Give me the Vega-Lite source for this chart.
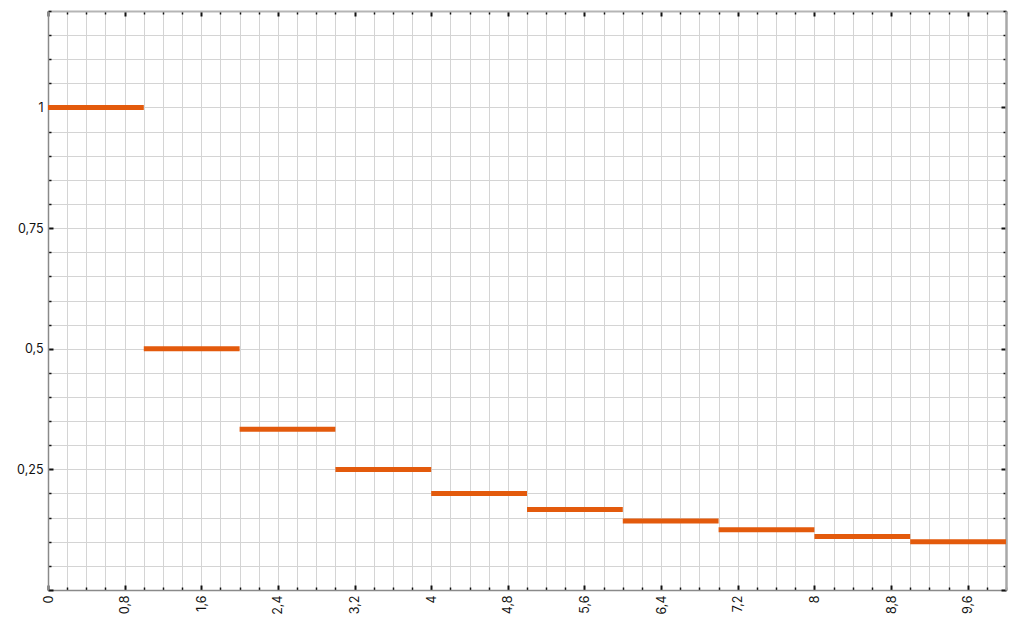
{
  "$schema": "https://vega.github.io/schema/vega-lite/v6.json",
  "width": 958,
  "height": 579,
  "autosize": "none",
  "padding": {"left": 48, "top": 11, "right": 8, "bottom": 35},
  "background": "white",
  "config": {
    "view": {"stroke": null},
    "axis": {"labelFont": "Inter", "labelFontSize": 12.5, "labelColor": "#111", "titleFont": "Inter"}
  },
  "data": {
    "values": [
      {"x0": 0, "x1": 1, "y": 1},
      {"x0": 1, "x1": 2, "y": 0.5},
      {"x0": 2, "x1": 3, "y": 0.3333333},
      {"x0": 3, "x1": 4, "y": 0.25},
      {"x0": 4, "x1": 5, "y": 0.2},
      {"x0": 5, "x1": 6, "y": 0.1666667},
      {"x0": 6, "x1": 7, "y": 0.1428571},
      {"x0": 7, "x1": 8, "y": 0.125},
      {"x0": 8, "x1": 9, "y": 0.1111111},
      {"x0": 9, "x1": 10, "y": 0.1}
    ]
  },
  "resolve": {"axis": {"x": "independent", "y": "independent"}},
  "layer": [
    {
      "mark": {"type": "rule", "color": "#e35a0c", "strokeWidth": 5, "strokeCap": "butt"},
      "encoding": {
        "x": {
          "field": "x0", "type": "quantitative",
          "scale": {"domain": [0, 10], "nice": false, "zero": false},
          "axis": {
            "orient": "bottom", "title": null,
            "values": [0,0.2,0.4,0.6,0.8,1,1.2,1.4,1.6,1.8,2,2.2,2.4,2.6,2.8,3,3.2,3.4,3.6,3.8,4,4.2,4.4,4.6,4.8,5,5.2,5.4,5.6,5.8,6,6.2,6.4,6.6,6.8,7,7.2,7.4,7.6,7.8,8,8.2,8.4,8.6,8.8,9,9.2,9.4,9.6,9.8,10],
            "grid": true, "gridColor": "#d4d4d4", "gridWidth": 1,
            "domainColor": "#8a8a8a", "domainWidth": 1.5,
            "tickColor": "#111",
            "tickWidth": {"condition": {"test": "abs(datum.value/0.8 - round(datum.value/0.8)) < 0.000001", "value": 2}, "value": 1.5},
            "tickSize": {"condition": {"test": "abs(datum.value/0.8 - round(datum.value/0.8)) < 0.000001", "value": -5}, "value": -3},
            "labelAngle": -90, "labelPadding": 10, "labelFlush": false, "labelOverlap": false,
            "labelExpr": "abs(datum.value/0.8 - round(datum.value/0.8)) < 0.000001 && datum.value < 9.9 ? replace(format(datum.value, '.1~f'), '.', ',') : ''"
          }
        },
        "x2": {"field": "x1"},
        "y": {
          "field": "y", "type": "quantitative",
          "scale": {"domain": [0, 1.2], "nice": false, "zero": false},
          "axis": {
            "orient": "left", "title": null,
            "values": [0,0.05,0.1,0.15,0.2,0.25,0.3,0.35,0.4,0.45,0.5,0.55,0.6,0.65,0.7,0.75,0.8,0.85,0.9,0.95,1,1.05,1.1,1.15,1.2],
            "grid": true, "gridColor": "#d4d4d4", "gridWidth": 1,
            "domainColor": "#8a8a8a", "domainWidth": 1.5,
            "tickColor": "#111",
            "tickWidth": {"condition": {"test": "abs(datum.value*4 - round(datum.value*4)) < 0.000001", "value": 2}, "value": 1.5},
            "tickSize": {"condition": {"test": "abs(datum.value*4 - round(datum.value*4)) < 0.000001", "value": -5}, "value": -3},
            "labelPadding": 10, "labelFlush": false, "labelOverlap": false,
            "labelExpr": "abs(datum.value*4 - round(datum.value*4)) < 0.000001 && datum.value > 0.1 && datum.value < 1.1 ? replace(format(datum.value, '~g'), '.', ',') : ''"
          }
        }
      }
    },
    {
      "mark": {"type": "rule", "opacity": 0},
      "encoding": {
        "x": {
          "field": "x0", "type": "quantitative",
          "axis": {
            "orient": "top", "title": null, "labels": false, "grid": false,
            "values": [0,0.2,0.4,0.6,0.8,1,1.2,1.4,1.6,1.8,2,2.2,2.4,2.6,2.8,3,3.2,3.4,3.6,3.8,4,4.2,4.4,4.6,4.8,5,5.2,5.4,5.6,5.8,6,6.2,6.4,6.6,6.8,7,7.2,7.4,7.6,7.8,8,8.2,8.4,8.6,8.8,9,9.2,9.4,9.6,9.8,10],
            "domainColor": "#b5b5b5", "domainWidth": 2,
            "tickColor": "#111",
            "tickWidth": {"condition": {"test": "abs(datum.value/0.8 - round(datum.value/0.8)) < 0.000001", "value": 2}, "value": 1.5},
            "tickSize": {"condition": {"test": "abs(datum.value/0.8 - round(datum.value/0.8)) < 0.000001", "value": -5}, "value": -3}
          }
        },
        "x2": {"field": "x1"},
        "y": {
          "field": "y", "type": "quantitative",
          "axis": {
            "orient": "right", "title": null, "labels": false, "grid": false,
            "values": [0,0.05,0.1,0.15,0.2,0.25,0.3,0.35,0.4,0.45,0.5,0.55,0.6,0.65,0.7,0.75,0.8,0.85,0.9,0.95,1,1.05,1.1,1.15,1.2],
            "domainColor": "#a8a8a8", "domainWidth": 2.5,
            "tickColor": "#111",
            "tickWidth": {"condition": {"test": "abs(datum.value*4 - round(datum.value*4)) < 0.000001", "value": 2}, "value": 1.5},
            "tickSize": {"condition": {"test": "abs(datum.value*4 - round(datum.value*4)) < 0.000001", "value": -5}, "value": -3}
          }
        }
      }
    }
  ]
}
